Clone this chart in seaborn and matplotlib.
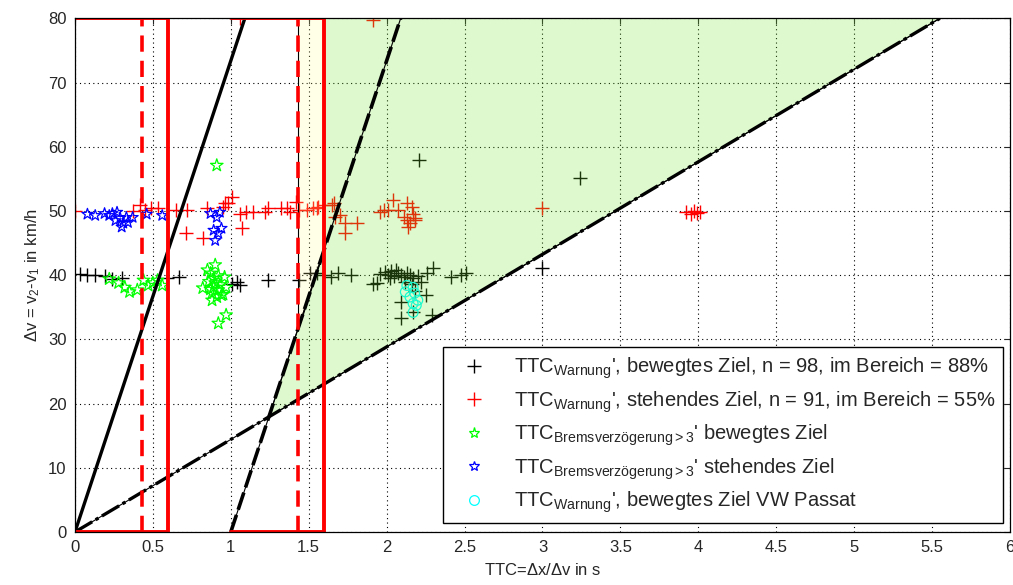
import numpy as np
import matplotlib
matplotlib.use("Agg")
import matplotlib.pyplot as plt
from matplotlib.patches import Polygon
from matplotlib.lines import Line2D
import seaborn as sns

# TTC_Warnung, bewegtes Ziel (schwarz)
bew_x = [0.03, 0.08, 0.13, 0.19, 0.24, 0.30, 0.59, 0.67, 1.01, 1.04, 1.06, 1.24,
         1.44, 1.51, 1.55, 1.60, 1.64, 1.69, 1.77, 1.91, 1.94, 1.96, 1.99, 2.01,
         2.03, 2.05, 2.07, 2.09, 2.11, 2.13, 2.15, 2.17, 2.20, 2.22, 2.26, 2.30,
         2.41, 2.48, 2.51, 2.09, 2.29, 2.17, 2.25, 2.09, 2.21, 3.24, 3.00, 2.02,
         2.06, 2.12, 2.16, 2.18]
bew_y = [40.2, 40.0, 40.0, 39.8, 39.4, 39.6, 39.5, 39.7, 38.7, 38.9, 38.5, 39.2,
         39.2, 40.3, 40.3, 40.0, 39.7, 40.3, 40.0, 38.7, 38.8, 40.2, 40.5, 40.0,
         40.6, 39.8, 40.4, 40.1, 39.7, 40.3, 40.0, 39.6, 39.9, 38.9, 40.3, 41.1,
         39.7, 40.0, 40.3, 33.3, 33.8, 34.2, 36.9, 35.8, 57.9, 55.1, 41.1, 39.5,
         40.8, 39.0, 38.6, 37.5]

# TTC_Warnung, stehendes Ziel (rot)
steh_x = [0.00, 0.37, 0.42, 0.45, 0.49, 0.53, 0.65, 0.72, 0.71, 0.82, 0.85, 0.95,
          0.96, 0.98, 1.01, 1.06, 1.07, 1.10, 1.14, 1.22, 1.24, 1.32, 1.36, 1.38,
          1.42, 1.44, 1.49, 1.53, 1.55, 1.56, 1.60, 1.65, 1.66, 1.67, 1.70, 1.73,
          1.73, 1.81, 1.96, 1.98, 2.01, 2.04, 2.07, 2.11, 2.13, 2.13, 2.14, 2.15,
          2.16, 2.17, 2.18, 2.18, 3.00, 3.92, 3.95, 3.97, 3.99, 4.01, 1.06, 1.91]
steh_y = [50.0, 50.0, 50.9, 50.1, 50.4, 50.4, 50.1, 50.1, 46.5, 45.8, 50.4, 50.6,
          51.2, 51.2, 52.1, 49.6, 47.3, 49.8, 49.8, 49.8, 50.4, 50.4, 50.4, 49.8,
          51.4, 50.1, 50.1, 50.4, 50.4, 50.6, 50.9, 50.9, 51.2, 49.0, 49.3, 48.1,
          46.5, 48.1, 49.8, 50.1, 50.1, 51.7, 50.1, 49.0, 51.2, 48.6, 47.5, 48.2,
          50.6, 49.6, 48.9, 48.6, 50.4, 49.8, 49.6, 50.0, 49.7, 49.9, 80.0, 79.7]

# TTC_Bremsverzoegerung>3, bewegtes Ziel (gruen)
brems_bew_x = [0.22, 0.28, 0.32, 0.35, 0.40, 0.44, 0.47, 0.50, 0.53, 0.56, 0.85,
               0.82, 0.89, 0.92, 0.91, 0.88, 0.96, 0.97, 0.94, 0.92, 0.97, 0.90,
               0.87, 0.91, 0.86, 0.88, 0.90, 0.93, 0.89, 0.87, 0.92, 0.95]
brems_bew_y = [39.4, 38.8, 38.1, 37.4, 37.7, 39.2, 38.4, 38.8, 39.2, 38.4, 40.8,
               38.0, 38.1, 37.7, 36.6, 36.1, 39.7, 38.1, 36.9, 32.5, 33.8, 41.6,
               40.3, 57.1, 39.0, 37.2, 38.8, 38.5, 39.5, 37.8, 39.9, 37.0]

# TTC_Bremsverzoegerung>3, stehendes Ziel (blau)
brems_steh_x = [0.08, 0.13, 0.19, 0.22, 0.24, 0.29, 0.31, 0.34, 0.37, 0.30, 0.27,
                0.33, 0.46, 0.56, 0.87, 0.91, 0.93, 0.89, 0.92, 0.90, 0.94, 0.26]
brems_steh_y = [49.5, 49.3, 49.6, 49.3, 49.6, 48.9, 48.1, 48.2, 49.0, 47.5, 49.8,
                49.0, 49.5, 49.3, 49.6, 49.0, 49.8, 47.0, 46.5, 45.4, 47.3, 48.5]

# TTC_Warnung, bewegtes Ziel VW Passat (cyan)
passat_x = [2.13, 2.17, 2.12, 2.18, 2.15, 2.20, 2.17, 2.19, 2.17]
passat_y = [38.4, 38.1, 37.4, 37.2, 36.6, 36.1, 35.6, 35.3, 34.2]

# Grenzlinien
ttc_max = 6.0
dv_max = 80.0
steil_x = [0.0, 1.09]           # durchgezogene Linie
steil_y = [0.0, 80.0]
steil_versatz = 1.0             # gestrichelte Linie = gleiche Steigung, um 1 s versetzt
flach_x = [0.0, 5.55]           # strichpunktierte Linie
flach_y = [0.0, 80.0]
rot_links = [0.0, 0.6]
rot_rechts = [1.0, 1.6]
rot_gestrichelt = [0.43, 1.43]

labels = [
    r"TTC$_{\mathrm{Warnung}}$', bewegtes Ziel, n = 98, im Bereich = 88%",
    r"TTC$_{\mathrm{Warnung}}$', stehendes Ziel, n = 91, im Bereich = 55%",
    r"TTC$_{\mathrm{Bremsverzögerung{>}3}}$' bewegtes Ziel",
    r"TTC$_{\mathrm{Bremsverzögerung{>}3}}$' stehendes Ziel",
    r"TTC$_{\mathrm{Warnung}}$', bewegtes Ziel VW Passat",
]

sns.set_style("white")
plt.rcParams["font.family"] = ["Liberation Sans", "DejaVu Sans"]
plt.rcParams["mathtext.fontset"] = "custom"
plt.rcParams["mathtext.rm"] = "Liberation Sans"
plt.rcParams["mathtext.it"] = "Liberation Sans:italic"

fig = plt.figure(figsize=(10.13, 5.85), dpi=100)
ax = fig.add_axes([0.074, 0.0906, 0.923, 0.878])

# Messpunkte
sns.scatterplot(x=bew_x, y=bew_y, marker="+", s=110, color="black",
                linewidth=1.0, ax=ax, zorder=2)
sns.scatterplot(x=steh_x, y=steh_y, marker="+", s=110, color="red",
                linewidth=1.0, ax=ax, zorder=2)
sns.scatterplot(x=brems_bew_x, y=brems_bew_y, marker="*", s=90,
                facecolor="none", edgecolor=(0, 1, 0), linewidth=0.9, ax=ax, zorder=2)
sns.scatterplot(x=brems_steh_x, y=brems_steh_y, marker="*", s=70,
                facecolor="none", edgecolor=(0, 0, 1), linewidth=0.9, ax=ax, zorder=2)
sns.scatterplot(x=passat_x, y=passat_y, marker="o", s=50,
                facecolor="none", edgecolor=(0, 1, 1), linewidth=0.9, ax=ax, zorder=2)

# Bereiche (halbtransparent ueber den Punkten)
m_steil = (steil_y[1] - steil_y[0]) / (steil_x[1] - steil_x[0])
m_flach = (flach_y[1] - flach_y[0]) / (flach_x[1] - flach_x[0])
xs = m_steil * steil_versatz / (m_steil - m_flach)
ys = m_flach * xs
x_gr = rot_rechts[1]
y_gr = m_steil * (x_gr - steil_versatz)
gruen = Polygon([(xs, ys), (x_gr, y_gr), (x_gr, dv_max), (flach_x[1], dv_max)],
                closed=True, facecolor=(0.45, 0.9, 0.18, 0.24),
                edgecolor="black", linewidth=0.8, zorder=3)
ax.add_patch(gruen)
x_ge = rot_gestrichelt[1]
gelb = Polygon([(x_ge, m_steil * (x_ge - steil_versatz)), (x_ge, dv_max),
                (x_gr, dv_max), (x_gr, y_gr)],
               closed=True, facecolor=(1.0, 1.0, 0.55, 0.2),
               edgecolor="black", linewidth=0.8, zorder=3)
ax.add_patch(gelb)

# schwarze Linien
ax.plot(steil_x, steil_y, color="black", lw=2.4, zorder=4)
gx = [steil_versatz + v for v in steil_x]
ax.plot(gx, steil_y, color="black", lw=0.8, zorder=4)
ax.plot(gx, steil_y, color="black", lw=2.6, ls=(0, (5, 1.5)), zorder=4)
ax.plot(flach_x, flach_y, color="black", lw=0.8, zorder=4)
ax.plot(flach_x, flach_y, color="black", lw=2.4, ls=(0, (6, 1.2, 1, 1.2)), zorder=4)

# rote Bereiche
for x0, x1 in (rot_links, rot_rechts):
    ax.plot([x0, x1, x1, x0], [dv_max, dv_max, 0, 0], color="red", lw=2.8, zorder=5)
for xg in rot_gestrichelt:
    ax.plot([xg, xg], [0, dv_max], color="red", lw=2.6, ls=(0, (4.5, 2.5)), zorder=5)

ax.set_xlim(0, ttc_max)
ax.set_ylim(0, dv_max)
ax.set_xticks(np.arange(0, 6.01, 0.5))
ax.set_yticks(np.arange(0, 81, 10))
ax.set_xticklabels(["%g" % v for v in np.arange(0, 6.01, 0.5)])
ax.grid(True, color="black", ls=(0, (1, 3)), lw=0.8)
ax.set_axisbelow(True)
ax.tick_params(direction="in", top=True, right=True, length=4, width=0.8,
               labelsize=12, pad=6)
for sp in ax.spines.values():
    sp.set_color("black")
    sp.set_linewidth(0.9)
    sp.set_zorder(6)

ax.set_xlabel(r"TTC=$\Delta$x/$\Delta$v in s", fontsize=12, labelpad=5)
ax.set_ylabel(r"$\Delta$v = v$_2$-v$_1$ in km/h", fontsize=12, labelpad=4)

handles = [
    Line2D([], [], ls="", marker="+", ms=10, mew=1.0, color="black"),
    Line2D([], [], ls="", marker="+", ms=10, mew=1.0, color="red"),
    Line2D([], [], ls="", marker="*", ms=8, mew=0.9, mfc="none", mec=(0, 1, 0)),
    Line2D([], [], ls="", marker="*", ms=7, mew=0.9, mfc="none", mec=(0, 0, 1)),
    Line2D([], [], ls="", marker="o", ms=7, mew=0.9, mfc="none", mec=(0, 1, 1)),
]
leg = ax.legend(handles, labels, loc="lower right", bbox_to_anchor=(0.993, 0.017),
                fontsize=14.5, frameon=True, fancybox=False, framealpha=1,
                edgecolor="black", handletextpad=0.9, labelspacing=0.4,
                borderpad=0.4, handlelength=2.2, borderaxespad=0)
leg.get_frame().set_linewidth(1.0)
leg.set_zorder(7)

fig.savefig("out.png", dpi=100)
